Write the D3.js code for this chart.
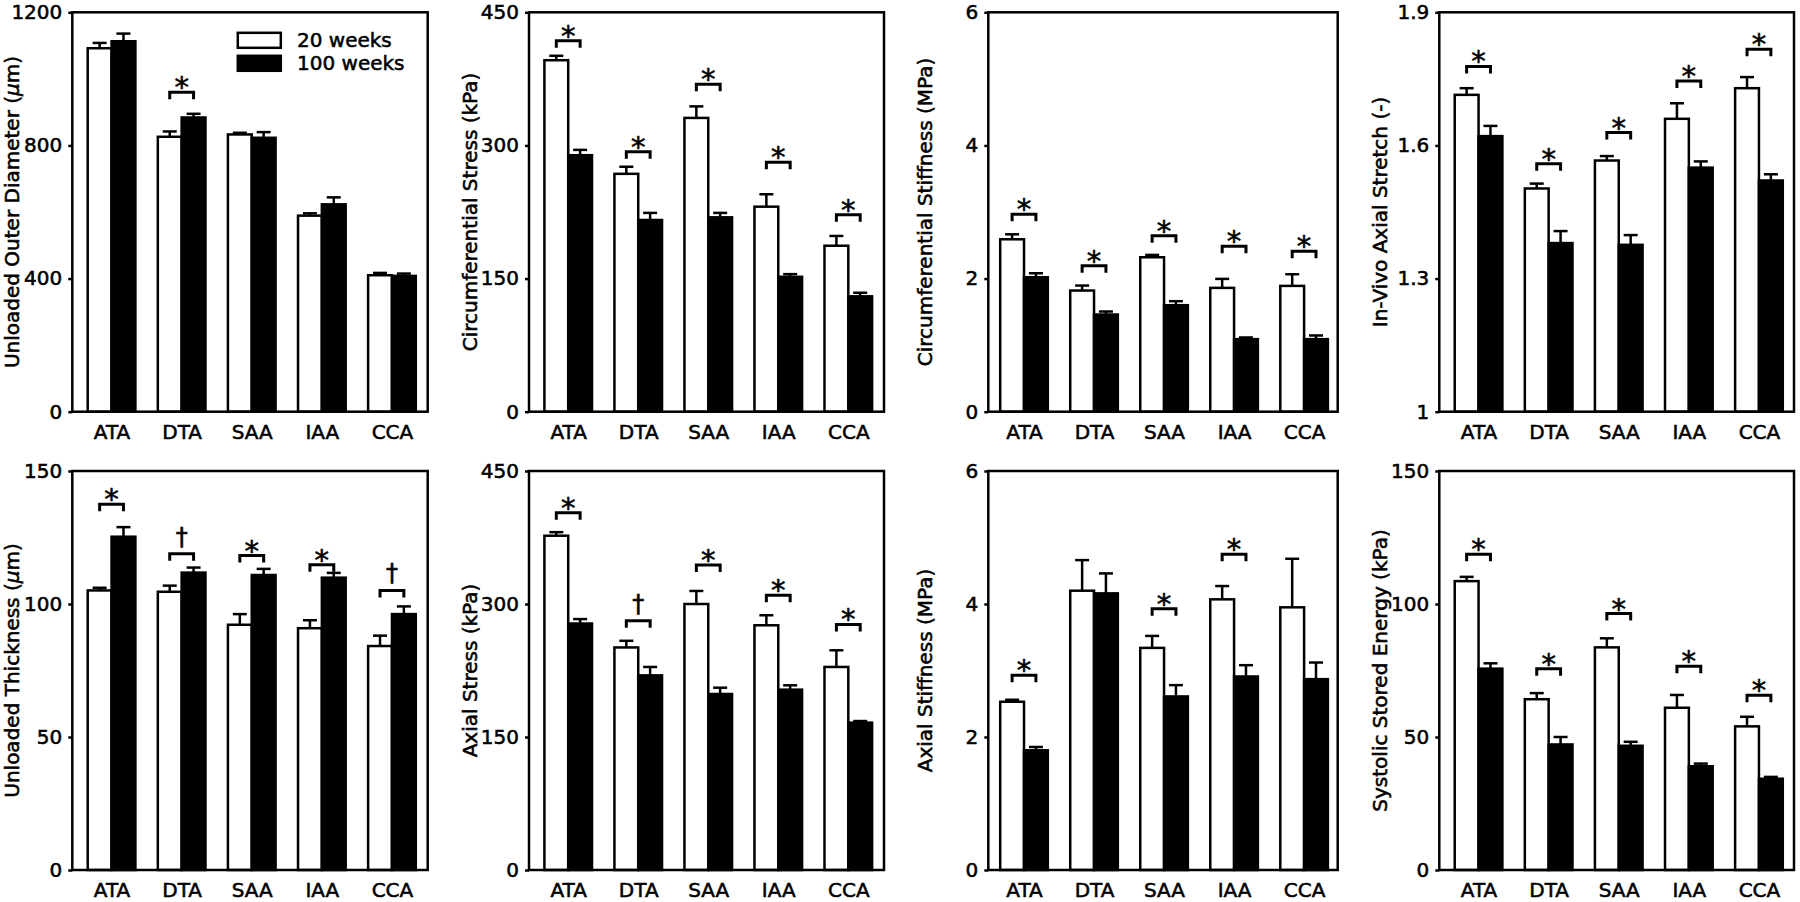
<!DOCTYPE html>
<html>
<head>
<meta charset="utf-8">
<script src="https://cdn.jsdelivr.net/npm/d3@7"></script>
<style>
  html, body { margin: 0; padding: 0; background: #fff; }
  svg { display: block; }
  text { font-family: "DejaVu Sans", sans-serif; fill: #000; stroke: #000; stroke-width: 0.55px; }
</style>
</head>
<body>
<svg id="chart" width="1800" height="902"></svg>
<script>
// ---------------- DATA ----------------
const categories = ["ATA", "DTA", "SAA", "IAA", "CCA"];
const seriesNames = ["20 weeks", "100 weeks"];

// Unloaded Outer Diameter (µm)
const diamYoung = [1092, 826, 833, 589, 410];
const diamYoungErr = [16, 16, 5, 7, 7];
const diamOld = [1113, 884, 823, 623, 408];
const diamOldErr = [23, 11, 17, 21, 7];
const diamSigY = [null, 960, null, null, null];
const diamSigMark = ["", "*", "", "", ""];
const diamTicks = [0, 400, 800, 1200];

// Circumferential Stress (kPa)
const cStressYoung = [396, 268, 331, 231, 187];
const cStressYoungErr = [5, 8, 13, 14, 11];
const cStressOld = [289, 216, 219, 152, 130];
const cStressOldErr = [6, 8, 5, 3, 4];
const cStressSigY = [418, 293, 369, 281, 222];
const cStressSigMark = ["*", "*", "*", "*", "*"];
const cStressTicks = [0, 150, 300, 450];

// Circumferential Stiffness (MPa)
const cStiffYoung = [2.59, 1.82, 2.32, 1.86, 1.89];
const cStiffYoungErr = [0.075, 0.075, 0.035, 0.135, 0.175];
const cStiffOld = [2.02, 1.46, 1.60, 1.09, 1.09];
const cStiffOldErr = [0.06, 0.045, 0.06, 0.025, 0.055];
const cStiffSigY = [2.965, 2.194, 2.644, 2.484, 2.409];
const cStiffSigMark = ["*", "*", "*", "*", "*"];
const cStiffTicks = [0, 2, 4, 6];

// In-Vivo Axial Stretch (-)
const stretchYoung = [1.714, 1.503, 1.566, 1.660, 1.729];
const stretchYoungErr = [0.015, 0.011, 0.010, 0.035, 0.025];
const stretchOld = [1.621, 1.380, 1.376, 1.550, 1.521];
const stretchOldErr = [0.023, 0.027, 0.022, 0.014, 0.014];
const stretchSigY = [1.778, 1.559, 1.629, 1.745, 1.817];
const stretchSigMark = ["*", "*", "*", "*", "*"];
const stretchTicks = [1, 1.3, 1.6, 1.9];

// Unloaded Thickness (µm)
const thickYoung = [105.1, 104.6, 92.2, 90.9, 84.2];
const thickYoungErr = [1.0, 2.3, 4.0, 3.0, 3.9];
const thickOld = [125.3, 111.8, 110.9, 109.9, 96.2];
const thickOldErr = [3.6, 1.9, 2.3, 1.8, 2.9];
const thickSigY = [137.5, 118.9, 118.2, 114.8, 105.1];
const thickSigMark = ["*", "†", "*", "*", "†"];
const thickTicks = [0, 50, 100, 150];

// Axial Stress (kPa)
const aStressYoung = [377, 251, 300, 276, 229];
const aStressYoungErr = [4, 7.5, 14.7, 11.3, 18.8];
const aStressOld = [278, 219.5, 198.5, 203.4, 166.2];
const aStressOldErr = [5, 9.5, 7.1, 4.9, 1.8];
const aStressSigY = [403, 281, 344, 310, 277];
const aStressSigMark = ["*", "†", "*", "*", "*"];
const aStressTicks = [0, 150, 300, 450];

// Axial Stiffness (MPa)
const aStiffYoung = [2.53, 4.20, 3.34, 4.07, 3.95];
const aStiffYoungErr = [0.03, 0.46, 0.18, 0.20, 0.73];
const aStiffOld = [1.80, 4.16, 2.61, 2.91, 2.87];
const aStiffOldErr = [0.05, 0.30, 0.17, 0.17, 0.25];
const aStiffSigY = [2.93, null, 3.93, 4.75, null];
const aStiffSigMark = ["*", "", "*", "*", ""];
const aStiffTicks = [0, 2, 4, 6];

// Systolic Stored Energy (kPa)
const energyYoung = [108.6, 64.2, 83.7, 61.0, 54.0];
const energyYoungErr = [1.6, 2.3, 3.4, 4.8, 3.6];
const energyOld = [75.7, 47.2, 46.7, 39.0, 34.3];
const energyOldErr = [2.0, 2.8, 1.5, 1.0, 0.7];
const energySigY = [118.7, 75.7, 96.4, 76.6, 65.7];
const energySigMark = ["*", "*", "*", "*", "*"];
const energyTicks = [0, 50, 100, 150];

// ---------------- PANELS ----------------
const panels = [
  { label: ["Unloaded Outer Diameter (", "μ", "m)"], ticks: diamTicks, young: diamYoung, youngErr: diamYoungErr, old: diamOld, oldErr: diamOldErr, sigY: diamSigY, sigMark: diamSigMark, legend: true },
  { label: ["Circumferential Stress (kPa)"], ticks: cStressTicks, young: cStressYoung, youngErr: cStressYoungErr, old: cStressOld, oldErr: cStressOldErr, sigY: cStressSigY, sigMark: cStressSigMark },
  { label: ["Circumferential Stiffness (MPa)"], ticks: cStiffTicks, young: cStiffYoung, youngErr: cStiffYoungErr, old: cStiffOld, oldErr: cStiffOldErr, sigY: cStiffSigY, sigMark: cStiffSigMark },
  { label: ["In-Vivo Axial Stretch (-)"], ticks: stretchTicks, young: stretchYoung, youngErr: stretchYoungErr, old: stretchOld, oldErr: stretchOldErr, sigY: stretchSigY, sigMark: stretchSigMark },
  { label: ["Unloaded Thickness (", "μ", "m)"], ticks: thickTicks, young: thickYoung, youngErr: thickYoungErr, old: thickOld, oldErr: thickOldErr, sigY: thickSigY, sigMark: thickSigMark },
  { label: ["Axial Stress (kPa)"], ticks: aStressTicks, young: aStressYoung, youngErr: aStressYoungErr, old: aStressOld, oldErr: aStressOldErr, sigY: aStressSigY, sigMark: aStressSigMark },
  { label: ["Axial Stiffness (MPa)"], ticks: aStiffTicks, young: aStiffYoung, youngErr: aStiffYoungErr, old: aStiffOld, oldErr: aStiffOldErr, sigY: aStiffSigY, sigMark: aStiffSigMark },
  { label: ["Systolic Stored Energy (kPa)"], ticks: energyTicks, young: energyYoung, youngErr: energyYoungErr, old: energyOld, oldErr: energyOldErr, sigY: energySigY, sigMark: energySigMark }
];

// ---------------- LAYOUT ----------------
const colLeft = [72.3, 529, 988.3, 1439.3];
const colRight = [427.7, 884, 1337.7, 1794];
const colXDomain = [[-0.56, 4.51], [-0.56, 4.51], [-0.51, 4.48], [-0.56, 4.50]];
const colLabelX = [19, 477, 932, 1387];
const rowTop = [12.3, 471];
const rowBottom = [411.7, 870];
const barW = 0.34;
const capHalf = 7;
const bracketLeg = 7;
const markOffset = { "*": 5, "†": -9 };
const markSize = { "*": 29, "†": 24 };
const fontSize = 20;
const lw = 2.5;

const svg = d3.select("#chart");

panels.forEach((p, k) => {
  const col = k % 4, row = Math.floor(k / 4);
  const L = colLeft[col], R = colRight[col], T = rowTop[row], B = rowBottom[row];
  const yDom = [p.ticks[0], p.ticks[p.ticks.length - 1]];
  const x = d3.scaleLinear().domain(colXDomain[col]).range([L, R]);
  const y = d3.scaleLinear().domain(yDom).range([B, T]);
  const g = svg.append("g");

  const decimals = p.ticks.some(t => !Number.isInteger(t)) ? 1 : 0;
  const fmt = t => (Number.isInteger(t) ? String(t) : t.toFixed(decimals));

  // Y axis
  const ya = g.append("g").attr("transform", `translate(${L},0)`)
    .call(d3.axisLeft(y).tickValues(p.ticks).tickSize(4).tickPadding(6).tickFormat(fmt));
  ya.select(".domain").remove();
  ya.selectAll(".tick line").attr("stroke", "#000").attr("stroke-width", lw);
  ya.selectAll(".tick text").attr("font-size", fontSize).attr("font-family", "DejaVu Sans").attr("fill", "#000");

  // X axis
  const xa = g.append("g").attr("transform", `translate(0,${B})`)
    .call(d3.axisBottom(x).tickValues(d3.range(categories.length)).tickSize(0).tickPadding(13).tickFormat(i => categories[i]));
  xa.select(".domain").remove();
  xa.selectAll(".tick text").attr("font-size", fontSize).attr("font-family", "DejaVu Sans").attr("fill", "#000");

  // Bars
  const series = [
    { vals: p.young, errs: p.youngErr, off: -barW, fill: "#fff" },
    { vals: p.old, errs: p.oldErr, off: 0, fill: "#000" }
  ];
  series.forEach(s => {
    const eg = g.append("g").attr("stroke", "#000").attr("stroke-width", lw);
    eg.selectAll("line.v").data(categories).join("line")
      .attr("x1", (c, i) => x(i + s.off + barW / 2)).attr("x2", (c, i) => x(i + s.off + barW / 2))
      .attr("y1", (c, i) => y(s.vals[i])).attr("y2", (c, i) => y(s.vals[i] + s.errs[i]));
    eg.selectAll("line.c").data(categories).join("line")
      .attr("x1", (c, i) => x(i + s.off + barW / 2) - capHalf).attr("x2", (c, i) => x(i + s.off + barW / 2) + capHalf)
      .attr("y1", (c, i) => y(s.vals[i] + s.errs[i])).attr("y2", (c, i) => y(s.vals[i] + s.errs[i]));
  });
  series.forEach(s => {
    g.append("g").selectAll("rect").data(categories).join("rect")
      .attr("x", (c, i) => x(i + s.off)).attr("width", (c, i) => x(i + s.off + barW) - x(i + s.off))
      .attr("y", (c, i) => y(s.vals[i])).attr("height", (c, i) => y(yDom[0]) - y(s.vals[i]))
      .attr("fill", s.fill).attr("stroke", "#000").attr("stroke-width", lw);
  });

  // Significance brackets
  categories.forEach((c, i) => {
    if (p.sigY[i] == null) return;
    const x1 = x(i - barW / 2), x2 = x(i + barW / 2), yy = y(p.sigY[i]);
    g.append("path")
      .attr("d", `M${x1},${yy + bracketLeg}V${yy}H${x2}V${yy + bracketLeg}`)
      .attr("fill", "none").attr("stroke", "#000").attr("stroke-width", 3);
    g.append("text").attr("x", x(i)).attr("y", yy + markOffset[p.sigMark[i]])
      .attr("text-anchor", "middle").attr("font-size", markSize[p.sigMark[i]]).text(p.sigMark[i]);
  });

  // Frame
  g.append("rect").attr("x", L).attr("y", T).attr("width", R - L).attr("height", B - T)
    .attr("fill", "none").attr("stroke", "#000").attr("stroke-width", lw);

  // Y label
  const lt = g.append("text")
    .attr("transform", `translate(${colLabelX[col]},${(T + B) / 2}) rotate(-90)`)
    .attr("text-anchor", "middle").attr("font-size", fontSize);
  p.label.forEach(part => {
    const ts = lt.append("tspan").text(part);
    if (part === "μ") ts.attr("font-style", "italic");
  });

  // Legend
  if (p.legend) {
    const lg = g.append("g").attr("transform", `translate(${L},${T})`);
    const fills = ["#fff", "#000"];
    seriesNames.forEach((nm, j) => {
      lg.append("rect").attr("x", 165.5).attr("y", 20.5 + j * 23).attr("width", 43).attr("height", 15)
        .attr("fill", fills[j]).attr("stroke", "#000").attr("stroke-width", lw);
      lg.append("text").attr("x", 224.7).attr("y", 34.4 + j * 23.3).attr("font-size", fontSize).text(nm);
    });
  }
});
</script>
</body>
</html>
